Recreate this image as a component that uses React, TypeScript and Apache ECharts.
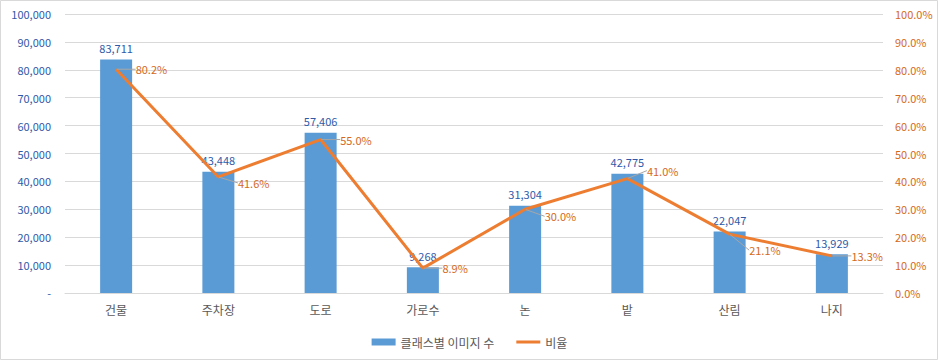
import React, { useEffect, useRef } from "react";
import * as echarts from "echarts";

const categories = ["건물", "주차장", "도로", "가로수", "논", "밭", "산림", "나지"];
const imageCounts = [83711, 43448, 57406, 9268, 31304, 42775, 22047, 13929];
const ratios = [80.2, 41.6, 55.0, 8.9, 30.0, 41.0, 21.1, 13.3];
const ratioLabelDy = [0, 6, 0, 0, 7, -8, 16, 0];

const FONT = "'Noto Sans CJK KR', 'Noto Sans', sans-serif";

export default function App() {
  const ref = useRef<HTMLDivElement>(null);
  useEffect(() => {
    if (!ref.current) return;
    const chart = echarts.init(ref.current, undefined, { renderer: "svg" });
    chart.setOption({
      animation: false,
      textStyle: { fontFamily: FONT },
      graphic: [
        {
          type: "rect",
          shape: { x: 0.5, y: 0.5, width: 937, height: 359 },
          style: { fill: "none", stroke: "#d9d9d9", lineWidth: 1 },
          silent: true,
          z: -10,
        },
      ],
      grid: { left: 65, right: 56, top: 14, bottom: 68 },
      legend: {
        bottom: 8,
        left: "center",
        itemWidth: 24,
        itemHeight: 7,
        itemGap: 22,
        textStyle: { color: "#595959", fontSize: 12, fontFamily: FONT },
        data: [
          { name: "클래스별 이미지 수", icon: "rect" },
          { name: "비율", icon: "path://M0,0 L24,0 L24,3 L0,3 Z", itemStyle: { color: "#ED7D31", opacity: 1 } },
        ],
      },
      xAxis: {
        type: "category",
        data: categories,
        axisTick: { show: false },
        axisLine: { lineStyle: { color: "#d9d9d9" } },
        axisLabel: { color: "#595959", fontSize: 12, margin: 10 },
      },
      yAxis: [
        {
          type: "value",
          min: 0,
          max: 100000,
          interval: 10000,
          axisLine: { show: false },
          axisTick: { show: false },
          splitLine: { lineStyle: { color: "#d9d9d9" } },
          axisLabel: {
            color: "#2f5aa8",
            fontSize: 11,
            margin: 14,
            formatter: (v: number) => (v === 0 ? "-" : v.toLocaleString("en-US")),
          },
        },
        {
          type: "value",
          min: 0,
          max: 100,
          interval: 10,
          axisLine: { show: false },
          axisTick: { show: false },
          splitLine: { show: false },
          axisLabel: {
            color: "#d4691c",
            fontSize: 11,
            margin: 12,
            formatter: (v: number) => v.toFixed(1) + "%",
          },
        },
      ],
      series: [
        {
          name: "클래스별 이미지 수",
          type: "bar",
          data: imageCounts,
          barWidth: 32,
          itemStyle: { color: "#5B9BD5" },
          label: {
            show: true,
            position: "top",
            distance: 6,
            color: "#2f5aa8",
            fontSize: 11,
            formatter: (p: any) => Number(p.value).toLocaleString("en-US"),
          },
        },
        {
          name: "비율",
          type: "line",
          yAxisIndex: 1,
          data: ratios,
          symbol: "circle",
          symbolSize: 1,
          showSymbol: true,
          z: 3,
          lineStyle: { color: "#ED7D31", width: 3 },
          itemStyle: { color: "#ED7D31" },
          label: {
            show: true,
            position: "right",
            distance: 19,
            color: "#d4691c",
            fontSize: 11,
            opacity: 1,
            formatter: (p: any) => Number(p.value).toFixed(1) + "%",
          },
          labelLine: { show: true, lineStyle: { color: "#a6a6a6", width: 1 } },
          labelLayout: (params: any) => ({ dy: ratioLabelDy[params.dataIndex] || 0 }),
        },
      ],
    });
    return () => chart.dispose();
  }, []);
  return <div ref={ref} style={{ width: 939, height: 361, position: "absolute", left: 0, top: 0 }} />;
}
